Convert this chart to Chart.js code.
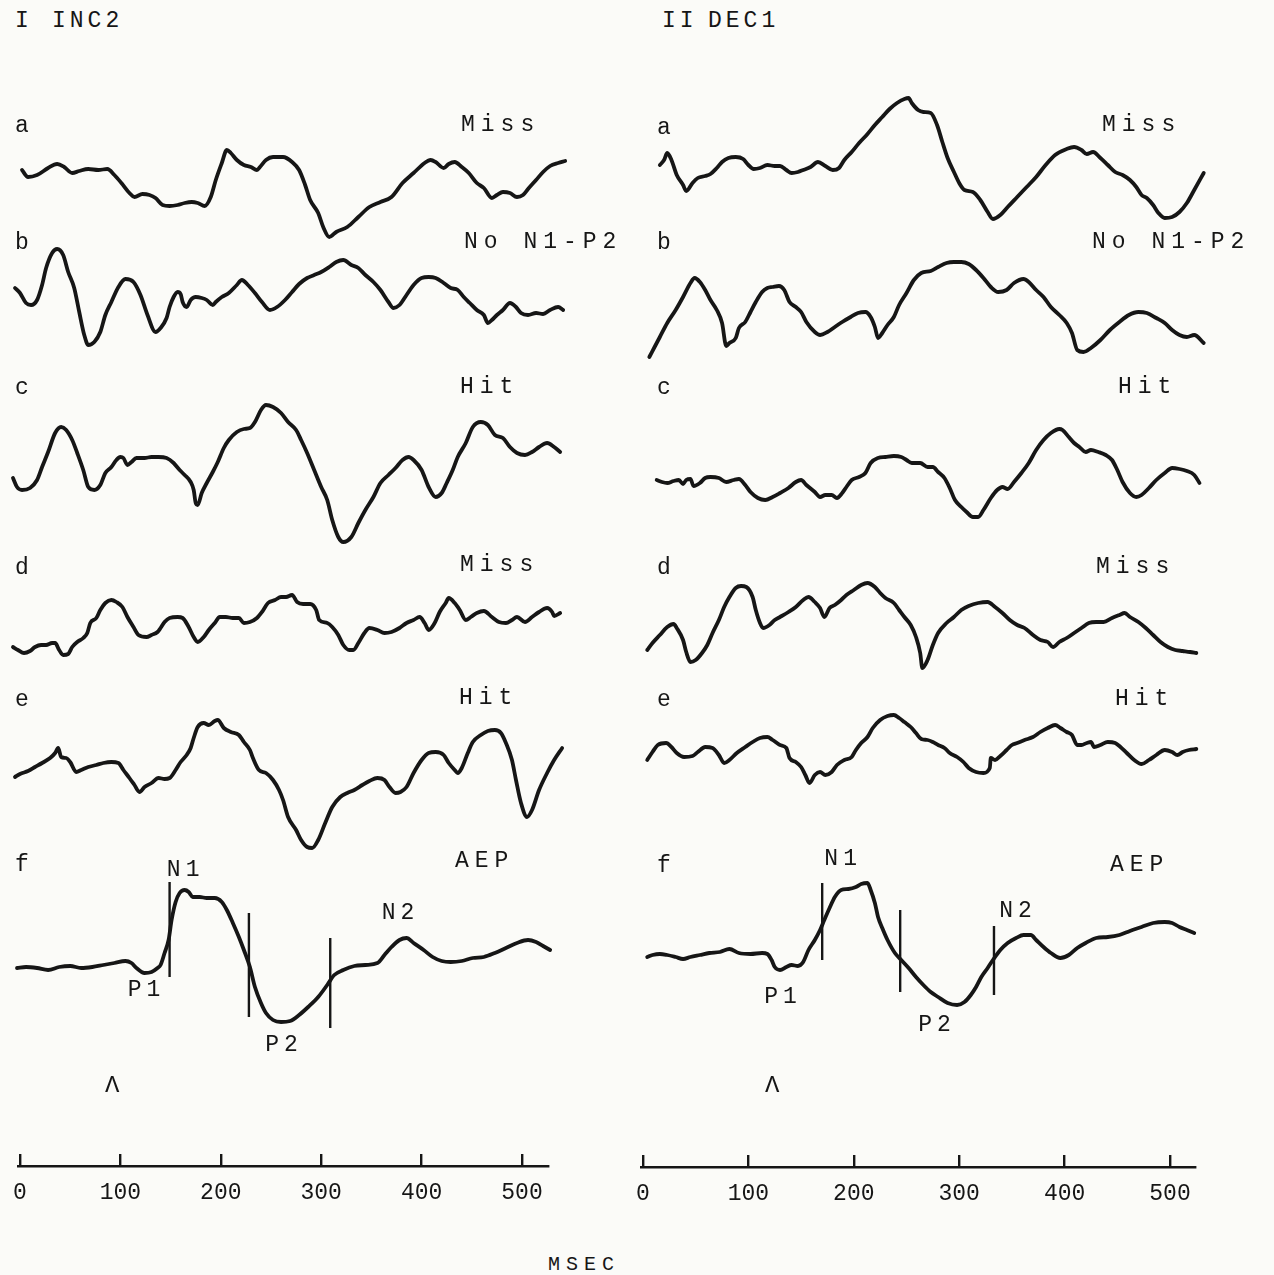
<!DOCTYPE html>
<html>
<head>
<meta charset="utf-8">
<title>INC2 / DEC1 averaged responses</title>
<script src="https://cdn.jsdelivr.net/npm/chart.js@4.4.1/dist/chart.umd.min.js"></script>
<style>
  body { margin: 0; background: #fbfbf8; }
  #page { position: relative; width: 1274px; height: 1275px; overflow: hidden;
          font-family: "Liberation Mono", "DejaVu Sans Mono", monospace; color: #161616; }
  .box { position: absolute; }
  .txt { position: absolute; white-space: pre; line-height: 1; }
</style>
</head>
<body>
<div id="page"></div>
<script>
// Averaged evoked responses, amplitude in arbitrary units (positive = up), time in ms.

// ---- Panel I : INC2 ----
const incA = [[2,20],[8,13],[17,15],[28,22],[37,26],[44,23],[52,17],[59,19],[68,21],[78,20],[87,21],[94,15],[101,7],[109,-3],[114,-7],[122,-4],[129,-5],[135,-8],[142,-15],[149,-16],[157,-15],[164,-13],[171,-12],[177,-13],[184,-16],[190,-7],[195,10],[201,27],[206,40],[210,37],[216,30],[223,25],[230,23],[236,20],[239,23],[245,30],[252,33],[262,33],[271,28],[278,20],[284,5],[289,-10],[297,-23],[302,-37],[308,-47],[315,-42],[326,-37],[337,-27],[348,-17],[359,-12],[370,-7],[381,7],[392,17],[403,27],[409,30],[414,28],[422,22],[427,26],[433,28],[440,23],[447,17],[455,7],[462,2],[470,-8],[475,-5],[481,-2],[488,-3],[495,-7],[501,-5],[506,1],[514,10],[521,18],[528,24],[536,27],[543,29]];
const incB = [[-5,2],[0,-3],[6,-13],[11,-15],[17,-10],[22,5],[26,22],[32,37],[37,41],[43,35],[48,18],[54,2],[59,-22],[64,-45],[68,-55],[74,-52],[80,-42],[85,-25],[91,-12],[98,3],[105,11],[113,8],[120,-5],[127,-25],[135,-42],[140,-38],[146,-28],[149,-17],[153,-7],[157,-2],[160,-4],[162,-12],[166,-17],[170,-10],[175,-7],[181,-8],[186,-10],[192,-15],[195,-12],[201,-7],[208,-3],[216,5],[221,10],[227,5],[234,-3],[241,-12],[249,-20],[256,-17],[264,-10],[271,-2],[278,6],[286,12],[293,15],[300,18],[308,23],[315,28],[322,30],[330,25],[337,22],[344,15],[352,8],[359,0],[367,-12],[372,-18],[378,-15],[385,-5],[392,5],[400,12],[407,13],[414,12],[422,7],[429,2],[436,0],[442,-7],[448,-13],[455,-20],[462,-25],[466,-33],[470,-30],[475,-25],[481,-20],[488,-13],[494,-17],[499,-23],[506,-25],[514,-23],[521,-24],[528,-20],[536,-17],[541,-20]];
const incC = [[-7,-8],[-3,-17],[2,-20],[10,-18],[17,-10],[22,3],[28,18],[35,37],[41,43],[46,40],[52,30],[57,17],[63,0],[68,-17],[74,-20],[80,-15],[85,-3],[91,3],[96,10],[100,13],[103,12],[107,5],[111,8],[116,12],[124,12],[131,13],[138,13],[146,12],[153,7],[159,0],[164,-5],[170,-12],[173,-20],[175,-33],[177,-35],[181,-23],[186,-13],[192,-2],[197,8],[203,22],[208,30],[216,38],[223,41],[229,42],[234,48],[240,60],[245,65],[252,63],[260,57],[267,48],[275,40],[280,30],[286,17],[293,0],[300,-17],[306,-30],[311,-50],[317,-67],[322,-72],[330,-67],[337,-53],[344,-40],[352,-27],[359,-13],[367,-5],[374,2],[381,10],[387,13],[392,10],[400,0],[407,-17],[414,-27],[420,-23],[425,-13],[431,0],[436,13],[444,27],[451,43],[459,48],[466,45],[473,35],[481,32],[488,23],[495,17],[503,15],[510,18],[517,23],[525,27],[532,23],[538,18]];
const incD = [[-7,-17],[-2,-20],[4,-23],[10,-21],[15,-17],[21,-15],[26,-15],[32,-13],[35,-13],[39,-20],[43,-25],[48,-24],[52,-17],[57,-12],[63,-8],[67,-3],[70,7],[76,12],[80,20],[85,27],[91,30],[96,28],[102,23],[107,13],[113,3],[118,-5],[126,-7],[131,-5],[137,-2],[140,2],[144,8],[149,12],[157,13],[162,12],[168,3],[173,-7],[177,-12],[183,-7],[188,0],[194,7],[199,13],[205,13],[212,12],[218,12],[223,7],[229,8],[236,12],[241,18],[247,27],[254,30],[260,33],[265,33],[271,35],[276,28],[282,26],[289,26],[295,20],[298,10],[306,7],[311,3],[317,-5],[322,-15],[328,-20],[332,-20],[337,-13],[343,-3],[348,2],[356,0],[363,-3],[370,-2],[378,2],[385,7],[392,10],[398,13],[403,7],[407,0],[413,7],[418,18],[424,27],[427,32],[433,27],[438,20],[444,10],[449,13],[455,17],[462,19],[470,13],[477,8],[484,7],[490,10],[495,13],[503,8],[510,13],[517,18],[525,22],[530,18],[532,14],[538,17]];
const incE = [[-5,3],[0,6],[8,9],[15,13],[22,17],[30,22],[35,27],[38,32],[41,23],[46,22],[50,18],[56,8],[61,10],[68,13],[76,15],[83,17],[91,18],[98,17],[103,10],[109,2],[114,-5],[119,-12],[124,-7],[131,-3],[138,2],[144,1],[149,2],[155,10],[160,18],[166,25],[170,32],[173,42],[177,53],[183,57],[188,55],[194,59],[197,60],[203,52],[210,48],[218,45],[223,38],[229,30],[232,22],[238,10],[245,7],[252,0],[258,-10],[262,-20],[267,-37],[275,-50],[280,-60],[286,-67],[291,-68],[297,-60],[304,-43],[311,-27],[319,-17],[326,-13],[333,-10],[341,-5],[348,-1],[356,2],[363,0],[368,-7],[374,-13],[379,-12],[385,-7],[392,7],[400,20],[407,27],[414,28],[422,25],[427,17],[433,10],[436,7],[440,12],[446,27],[451,38],[459,45],[466,49],[473,50],[479,47],[484,37],[490,20],[494,0],[499,-23],[505,-37],[510,-30],[517,-10],[525,7],[532,20],[540,32]];
const incF = [[-3,-3],[6,-2],[17,-3],[28,-5],[39,-2],[50,-1],[61,-3],[72,-2],[83,0],[94,2],[105,4],[111,2],[116,-3],[124,-8],[131,-7],[137,-3],[140,0],[144,12],[148,25],[151,45],[155,63],[159,72],[164,75],[168,73],[172,68],[179,68],[186,67],[194,67],[201,63],[206,55],[212,42],[218,28],[223,15],[229,-2],[234,-22],[240,-38],[245,-48],[252,-55],[260,-57],[269,-56],[278,-50],[287,-42],[297,-32],[306,-20],[313,-10],[322,-5],[333,-1],[344,0],[356,2],[363,10],[370,18],[378,25],[385,27],[392,22],[402,15],[411,8],[420,4],[429,3],[440,4],[451,7],[462,8],[473,12],[484,17],[495,22],[506,25],[514,23],[521,19],[528,15]];

// ---- Panel II : DEC1 ----
const decA = [[16,10],[20,15],[23,22],[27,15],[32,0],[38,-10],[41,-16],[47,-8],[52,-3],[59,-1],[64,1],[70,7],[75,13],[81,17],[88,18],[95,16],[100,10],[105,6],[111,7],[118,10],[125,9],[130,9],[136,5],[141,2],[147,3],[152,5],[159,8],[166,13],[173,9],[180,5],[186,7],[191,15],[198,23],[205,32],[213,41],[220,50],[227,58],[234,66],[241,72],[248,76],[252,77],[255,72],[261,65],[266,63],[273,62],[279,50],[284,33],[289,17],[295,3],[300,-8],[305,-15],[313,-17],[320,-25],[327,-37],[332,-44],[339,-40],[346,-32],[355,-22],[364,-12],[373,-2],[382,10],[391,20],[402,26],[409,28],[416,25],[421,21],[427,23],[434,17],[441,10],[448,3],[455,0],[462,-5],[468,-12],[473,-20],[478,-23],[484,-30],[489,-38],[495,-43],[502,-42],[509,-37],[516,-28],[523,-15],[532,2]];
const decB = [[6,-47],[11,-37],[16,-27],[23,-13],[31,0],[38,13],[45,27],[49,32],[54,28],[59,20],[64,10],[70,0],[75,-13],[79,-36],[82,-33],[88,-28],[91,-18],[97,-12],[102,-2],[107,8],[113,18],[118,22],[123,23],[129,24],[134,20],[139,8],[145,3],[150,-2],[155,-12],[163,-22],[168,-25],[175,-22],[182,-17],[189,-12],[197,-7],[204,-3],[211,-2],[216,-7],[220,-17],[223,-28],[227,-23],[232,-15],[238,-7],[243,5],[250,17],[257,30],[264,37],[273,39],[280,43],[288,47],[295,48],[302,48],[309,46],[316,40],[323,32],[330,23],[337,18],[345,20],[352,27],[361,31],[366,28],[373,20],[380,13],[387,3],[395,-5],[402,-13],[407,-23],[412,-40],[418,-42],[425,-38],[434,-30],[443,-20],[452,-12],[461,-5],[470,-2],[478,-3],[487,-8],[495,-13],[502,-20],[509,-25],[516,-27],[523,-25],[532,-33]];
const decC = [[13,0],[18,-2],[23,-3],[29,-1],[34,0],[38,-4],[41,0],[45,1],[48,-6],[54,-3],[59,2],[64,3],[72,2],[79,-2],[86,0],[91,1],[97,-5],[102,-12],[109,-18],[116,-20],[123,-17],[130,-13],[138,-8],[145,-2],[150,0],[155,-5],[163,-12],[168,-17],[173,-15],[179,-15],[184,-18],[189,-13],[193,-7],[198,0],[205,3],[211,7],[216,17],[223,22],[230,23],[238,24],[245,23],[250,20],[255,17],[263,17],[270,13],[275,13],[280,8],[286,2],[291,-8],[296,-20],[302,-27],[307,-32],[313,-37],[318,-37],[323,-30],[330,-18],[336,-10],[341,-7],[346,-9],[352,-2],[359,7],[366,17],[373,30],[380,40],[387,47],[395,51],[398,50],[404,43],[409,37],[414,33],[420,28],[425,30],[432,28],[439,25],[445,20],[450,10],[455,-2],[462,-13],[468,-17],[473,-15],[480,-8],[487,0],[495,7],[502,12],[509,11],[516,9],[523,5],[528,-3]];
const decD = [[4,-20],[9,-13],[16,-5],[23,3],[29,6],[32,2],[38,-10],[41,-22],[45,-32],[50,-30],[56,-23],[61,-15],[66,-3],[72,10],[77,23],[82,33],[88,42],[93,44],[98,43],[104,33],[107,20],[111,7],[114,2],[120,5],[125,10],[130,13],[138,18],[145,23],[152,30],[157,33],[163,28],[168,22],[172,13],[177,22],[182,25],[188,30],[193,35],[200,40],[207,45],[213,47],[220,43],[225,37],[230,32],[238,27],[243,20],[248,13],[254,5],[259,-7],[263,-23],[265,-38],[270,-30],[275,-15],[280,-3],[288,7],[295,13],[302,20],[309,24],[318,27],[327,28],[334,23],[341,17],[348,10],[355,5],[362,2],[370,-5],[377,-10],[384,-12],[389,-17],[395,-12],[402,-8],[409,-3],[416,2],[423,7],[430,8],[437,8],[445,12],[452,15],[457,17],[462,13],[470,8],[477,2],[484,-5],[491,-12],[498,-17],[505,-20],[512,-21],[519,-22],[525,-23]];
const decE = [[4,-5],[9,3],[14,10],[22,12],[27,8],[32,2],[39,-2],[47,-1],[52,3],[59,8],[66,7],[72,0],[77,-8],[82,-5],[89,2],[97,8],[104,13],[111,17],[118,18],[123,15],[130,10],[136,7],[139,-3],[145,-7],[150,-12],[154,-20],[158,-28],[163,-20],[168,-17],[173,-20],[179,-17],[184,-10],[191,-5],[198,-2],[202,5],[207,12],[213,18],[218,27],[225,35],[232,39],[238,40],[243,37],[248,33],[254,28],[259,22],[264,16],[270,15],[275,13],[280,10],[286,7],[291,2],[298,-2],[304,-7],[309,-13],[316,-17],[323,-18],[329,-13],[330,-3],[334,-5],[339,-1],[345,5],[350,10],[355,12],[362,15],[370,18],[377,23],[384,27],[391,30],[396,27],[402,23],[407,20],[412,10],[416,10],[421,12],[425,13],[428,8],[434,10],[441,13],[448,12],[453,8],[459,2],[466,-5],[473,-9],[480,-5],[487,0],[495,5],[502,3],[507,0],[512,3],[518,5],[525,6]];
const decF = [[4,-2],[9,0],[16,1],[23,0],[31,-2],[38,-4],[45,-2],[54,0],[63,2],[73,3],[82,6],[91,2],[102,1],[113,2],[118,1],[122,-5],[125,-12],[130,-15],[136,-12],[141,-10],[147,-11],[152,-7],[157,5],[163,15],[168,25],[172,35],[177,47],[182,58],[188,65],[195,66],[202,68],[207,71],[213,72],[216,65],[220,52],[223,38],[227,27],[232,15],[239,2],[245,-5],[252,-13],[259,-22],[266,-30],[273,-37],[280,-42],[289,-48],[298,-50],[305,-47],[311,-40],[316,-32],[321,-22],[327,-13],[332,-5],[339,5],[346,12],[354,17],[361,20],[368,20],[373,15],[380,8],[387,2],[396,-3],[404,0],[412,7],[420,12],[430,17],[441,18],[452,20],[462,24],[473,28],[484,32],[495,33],[502,32],[509,28],[516,25],[523,22]];

// latency markers on the AEP traces: [ms, top amplitude, bottom amplitude]
const incMarkers = [[149,83,-12],[228,52,-52],[309,27,-63]];
const decMarkers = [[170,72,-5],[244,45,-37],[333,29,-40]];
// component names: [text, ms, amplitude]
const incPeaks = [['N1',163,95],['P1',124,-25],['P2',261,-80],['N2',377,52]];
const decPeaks = [['N1',188,96],['P1',131,-42],['P2',277,-70],['N2',354,44]];

const rowLetters = ['a','b','c','d','e','f'];
const incConditions = ['Miss','No N1-P2','Hit','Miss','Hit','AEP'];
const decConditions = ['Miss','No N1-P2','Hit','Miss','Hit','AEP'];

const axisTicks = [0,100,200,300,400,500];
const axisTickLabels = ['0','100','200','300','400','500'];

// ------------------------------------------------------------------
const INK = '#161616';
const FONT = '"Liberation Mono", "DejaVu Sans Mono", monospace';
const page = document.getElementById('page');

// px per ms: left 1.004 (0 ms at x=20), right 1.054 (0 ms at x=643)
const panels = [
  { title: ['I', 'INC2'], titleX: [15, 52], left: 0, width: 580, xMin: -19.92, xMax: 557.77,
    letterX: 15, condX: [461, 464, 460, 460, 459, 455],
    letterY: [133, 250, 395, 575, 707, 872], condY: [132, 249, 394, 572, 705, 868],
    traces: [incA, incB, incC, incD, incE, incF], bases: [190, 290, 470, 630, 780, 965],
    conds: incConditions, markers: incMarkers, peaks: incPeaks,
    lambdaX: 105,
    axis: { left: 0, width: 568, padL: 18, padR: 20, min: -1.99, max: 525.9, lineY: 1166 } },
  { title: ['II', 'DEC1'], titleX: [662, 708], left: 620, width: 600, xMin: -21.82, xMax: 547.44,
    letterX: 657, condX: [1102, 1092, 1118, 1096, 1115, 1110],
    letterY: [135, 250, 395, 575, 707, 873], condY: [132, 249, 394, 574, 706, 872],
    traces: [decA, decB, decC, decD, decE, decF], bases: [175, 310, 480, 630, 755, 955],
    conds: decConditions, markers: decMarkers, peaks: decPeaks,
    lambdaX: 765,
    axis: { left: 621, width: 594, padL: 20, padR: 20, min: -1.9, max: 523.7, lineY: 1167 } }
];

function addText(str, x, baseline, size, spacing) {
  const el = document.createElement('div');
  el.className = 'txt';
  el.textContent = str;
  el.style.fontSize = size + 'px';
  el.style.letterSpacing = spacing + 'px';
  el.style.left = x + 'px';
  el.style.top = (baseline - 0.766 * size) + 'px';
  page.appendChild(el);
}

function makeBox(left, top, width, height) {
  const div = document.createElement('div');
  div.className = 'box';
  div.style.left = left + 'px';
  div.style.top = top + 'px';
  div.style.width = width + 'px';
  div.style.height = height + 'px';
  const cv = document.createElement('canvas');
  div.appendChild(cv);
  page.appendChild(div);
  return { div, cv };
}

// vertical latency bars + N1/P1/P2/N2 names
function aepPlugin(markers, peaks) {
  return {
    id: 'aepMarks',
    afterDatasetsDraw(chart) {
      const { ctx, scales: { x, y } } = chart;
      ctx.save();
      ctx.strokeStyle = INK;
      ctx.lineWidth = 2.4;
      markers.forEach(([ms, top, bottom]) => {
        ctx.beginPath();
        ctx.moveTo(x.getPixelForValue(ms), y.getPixelForValue(top));
        ctx.lineTo(x.getPixelForValue(ms), y.getPixelForValue(bottom));
        ctx.stroke();
      });
      ctx.fillStyle = INK;
      ctx.font = '23px ' + FONT;
      ctx.letterSpacing = '5px';
      ctx.textAlign = 'center';
      ctx.textBaseline = 'middle';
      peaks.forEach(([txt, ms, amp]) => {
        ctx.fillText(txt, x.getPixelForValue(ms) + 2, y.getPixelForValue(amp));
      });
      ctx.restore();
    }
  };
}

function drawTrace(panel, data, base, isAep) {
  const half = isAep ? 130 : 100;
  const { cv } = makeBox(panel.left, base - half, panel.width, 2 * half);
  new Chart(cv, {
    type: 'line',
    data: {
      datasets: [{
        data: data.map(([t, v]) => ({ x: t, y: v })),
        borderColor: INK,
        borderWidth: 3.8,
        pointRadius: 0,
        cubicInterpolationMode: 'monotone',
        borderJoinStyle: 'round',
        borderCapStyle: 'round',
        clip: false
      }]
    },
    options: {
      responsive: true,
      maintainAspectRatio: false,
      animation: false,
      events: [],
      layout: { padding: 0 },
      plugins: { legend: { display: false }, tooltip: { enabled: false } },
      scales: {
        x: { type: 'linear', display: false, min: panel.xMin, max: panel.xMax },
        y: { display: false, min: -half, max: half }
      }
    },
    plugins: isAep ? [aepPlugin(panel.markers, panel.peaks)] : []
  });
}

function drawAxis(ax) {
  const TICK_H = 12;      // upright tick marks above the axis line
  const LABEL_H = 50;     // room under the line for the numbers
  const { cv } = makeBox(ax.left, ax.lineY - TICK_H, ax.width, TICK_H + LABEL_H);
  new Chart(cv, {
    type: 'scatter',
    data: { datasets: [] },
    options: {
      responsive: true,
      maintainAspectRatio: false,
      animation: false,
      events: [],
      layout: { padding: { left: ax.padL, right: ax.padR, top: 0, bottom: 0 } },
      plugins: { legend: { display: false }, tooltip: { enabled: false } },
      scales: {
        x: {
          type: 'linear', position: 'bottom', min: ax.min, max: ax.max,
          afterBuildTicks: (s) => { s.ticks = axisTicks.map(v => ({ value: v })); },
          afterFit: (s) => { s.height = LABEL_H; },
          grid: { drawOnChartArea: true, drawTicks: false, color: INK, lineWidth: 2.4 },
          border: { display: true, color: INK, width: 2.4 },
          ticks: {
            autoSkip: false, maxRotation: 0, padding: 13, color: INK,
            font: { family: FONT, size: 23 },
            callback: (v, i) => axisTickLabels[i]
          }
        },
        y: { display: false, min: 0, max: 1 }
      }
    }
  });
}

panels.forEach(p => {
  addText(p.title[0], p.titleX[0], 28, 23, 4);
  addText(p.title[1], p.titleX[1], 28, 23, 4);
  p.traces.forEach((tr, i) => {
    drawTrace(p, tr, p.bases[i], i === 5);
    addText(rowLetters[i], p.letterX, p.letterY[i], 23, 6);
    addText(p.conds[i], p.condX[i], p.condY[i], 23, 6);
  });
  addText('\u039B', p.lambdaX, 1092, 24, 0);
  drawAxis(p.axis);
});
addText('MSEC', 548, 1270, 20, 6);
</script>
</body>
</html>
